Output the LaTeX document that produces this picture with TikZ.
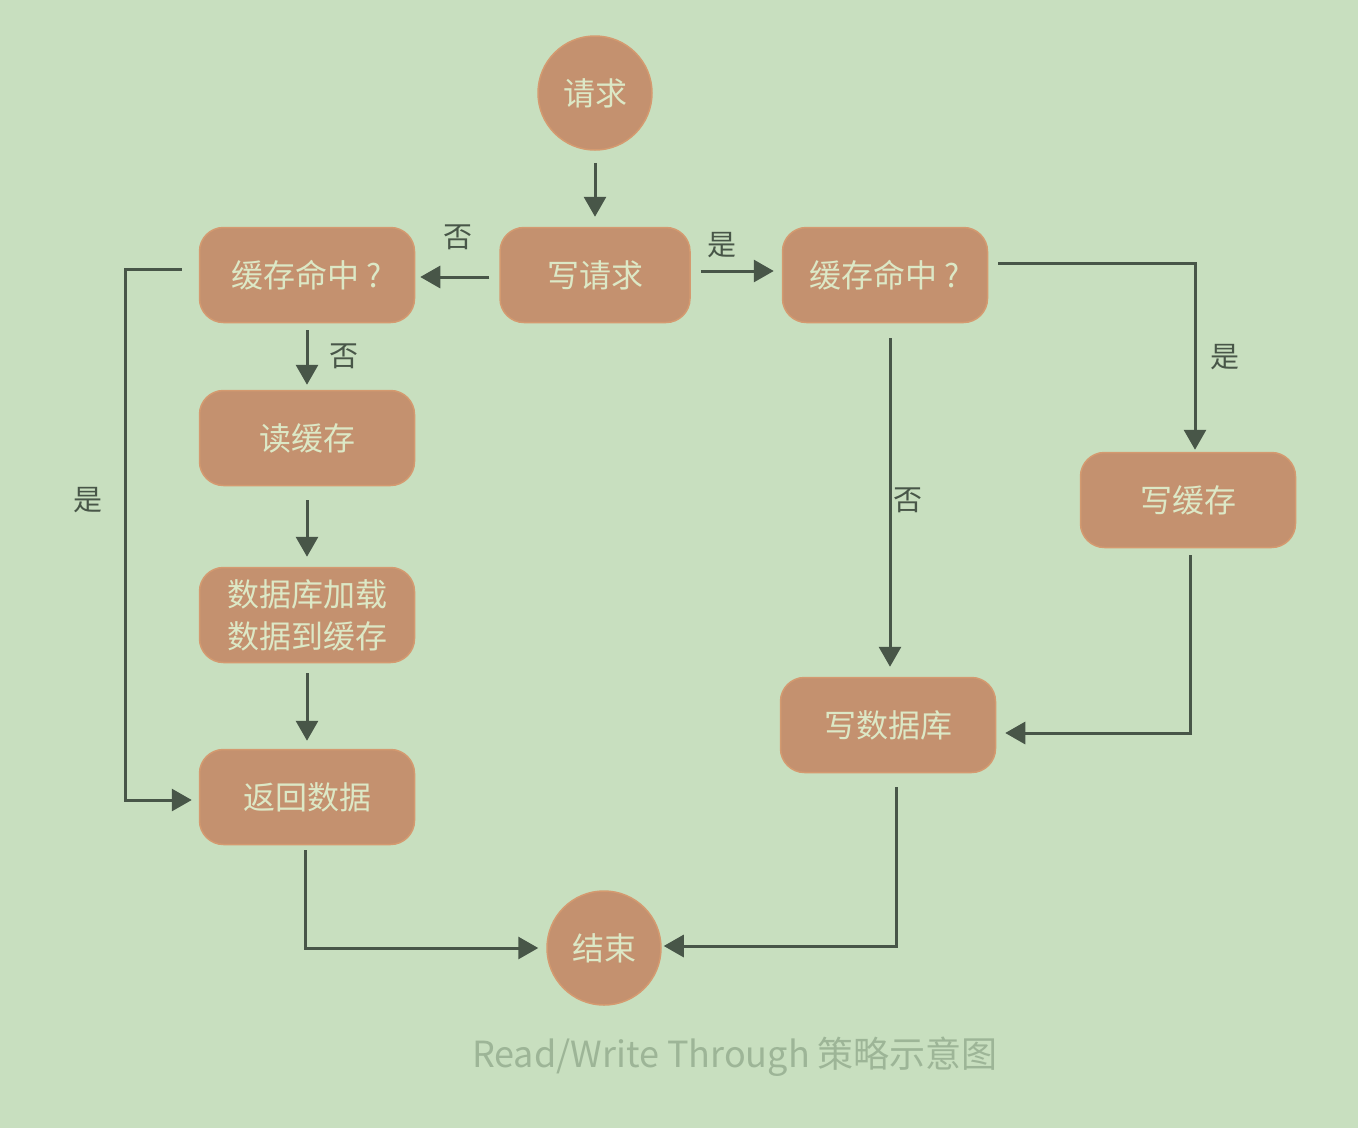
\documentclass[tikz,border=0pt]{standalone}
\usepackage{fontspec}
\setmainfont{Noto Sans CJK SC}
\usetikzlibrary{arrows.meta,calc}
\definecolor{bgc}{HTML}{C8DFBF}
\definecolor{nodef}{HTML}{C4916F}
\definecolor{noded}{HTML}{D49A70}
\definecolor{ntext}{HTML}{DCE8C6}
\definecolor{arrc}{HTML}{485648}
\definecolor{capc}{HTML}{9DB597}
\tikzset{
  box/.style={draw=noded, line width=1.5pt, fill=nodef, rounded corners=24pt,
    minimum width=215pt, minimum height=95pt, text=ntext, align=center,
    font=\fontsize{32}{42}\selectfont, inner sep=0pt},
  circ/.style={draw=noded, line width=1.5pt, fill=nodef, circle,
    minimum size=114pt, text=ntext, font=\fontsize{32}{36}\selectfont, inner sep=0pt},
  arr/.style={draw=arrc, line width=3pt, -{Triangle[length=20pt,width=22pt]}},
  lbl/.style={text=arrc, font=\fontsize{29}{32}\selectfont, inner sep=0pt}
}
\begin{document}
\begin{tikzpicture}[x=1pt,y=-1pt]
\useasboundingbox (0,0) rectangle (1358,1128);
\fill[bgc] (0,0) rectangle (1358,1128);

\node[circ] (req) at (595,93) {请求};
\node[box, minimum width=190pt] (wreq) at (595,275) {写请求};
\node[box] (hitL) at (307,275) {缓存命中 ?};
\node[box, minimum width=205pt] (hitR) at (885,275) {缓存命中 ?};
\node[box] (rcache) at (307,438) {读缓存};
\node[box] (load) at (307,615) {数据库加载\\数据到缓存};
\node[box] (ret) at (307,797) {返回数据};
\node[box] (wcache) at (1188,500) {写缓存};
\node[box] (wdb) at (888,725) {写数据库};
\node[circ] (end) at (604,948) {结束};

\node[text=capc, font=\fontsize{36}{40}\selectfont, inner sep=0pt] (cap) at (735,1057) {Read/Write Through 策略示意图};

% arrows
\draw[arr, shorten <=12pt, shorten >=10pt] (req.south) -- (wreq.north);
\draw[arr, shorten <=10pt, shorten >=5pt] ([yshift=-2pt]wreq.west) -- ([yshift=-2pt]hitL.east);
\draw[arr, shorten <=10pt, shorten >=8pt] ([yshift=4pt]wreq.east) -- ([yshift=4pt]hitR.west);
\draw[arr, shorten <=7pt, shorten >=5pt] (hitL.south) -- (rcache.north);
\draw[arr, shorten <=14pt, shorten >=10pt] (rcache.south) -- (load.north);
\draw[arr, shorten <=10pt, shorten >=8pt] (load.south) -- (ret.north);

\coordinate (cL) at (125,269);
\draw[arr, shorten <=17pt, shorten >=7pt] (hitL.west |- cL) -- (cL) |- ([yshift=-3pt]ret.west);

\coordinate (cR) at (1195,263);
\draw[arr, shorten <=10pt, shorten >=2pt] (hitR.east |- cR) -- (cR) -- (cR |- wcache.north);

\draw[arr, shorten <=15pt, shorten >=10pt] ([xshift=5pt]hitR.south) -- ([xshift=2pt]wdb.north);

\coordinate (cW) at (1190,733);
\draw[arr, shorten <=7pt, shorten >=9pt] (cW |- wcache.south) -- (cW) -- (cW -| wdb.east);

\coordinate (cE) at (305,948);
\draw[arr, shorten <=5pt, shorten >=8pt] (cE |- ret.south) -- (cE) -- (end.west);

\coordinate (cD) at (896,946);
\draw[arr, shorten <=14pt, shorten >=2pt] (cD |- wdb.south) -- (cD) -- (cD -| end.east);

% labels
\node[lbl] (l1) at (458,237) {否};
\node[lbl] (l2) at (722,245) {是};
\node[lbl] (l3) at (344,356) {否};
\node[lbl] (l4) at (88,500) {是};
\node[lbl] (l5) at (1225,357) {是};
\node[lbl] (l6) at (908,500) {否};
\end{tikzpicture}
\end{document}
